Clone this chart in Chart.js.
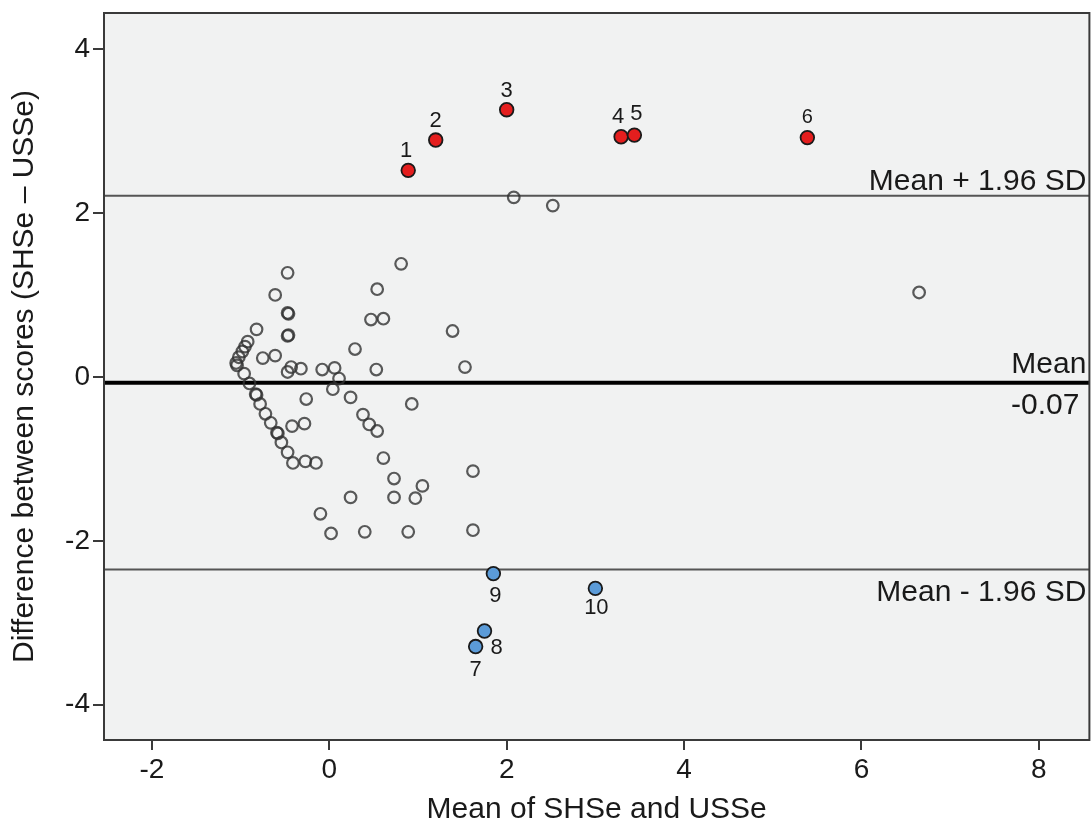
<!DOCTYPE html>
<html>
<head>
<meta charset="utf-8">
<script src="https://cdn.jsdelivr.net/npm/chart.js@4.4.1/dist/chart.umd.min.js"></script>
<style>
  html, body { margin: 0; padding: 0; background: #fff; overflow: hidden; }
  #wrap { width: 1091px; height: 828px; overflow: hidden; }
</style>
</head>
<body>
<div id="wrap"><canvas id="bland" width="1098" height="828"></canvas></div>
<script>
// gray open circles (mean, difference)
const grayX = [2.08, 2.52, 0.81, 0.54, 0.47, 0.61, 1.39, 6.65, 1.53,
  -0.47, -0.61, -0.47, -0.46, -0.47, -0.46, -0.82, -0.92, -0.95, -0.98, -1.02, -1.05, -1.04,
  -0.96, -0.75, -0.61, -0.47, -0.43, -0.32, -0.08, 0.06, 0.11, 0.04, 0.24, 0.29, 0.53,
  -0.26, 0.93, 0.38, 0.45, 0.54, -0.42, -0.28, 0.61, 1.62, 0.73, 1.05, 0.24, 0.73, 0.97,
  -0.10, 0.02, 0.40, 0.89, 1.62, -0.27, -0.15,
  -0.90, -0.83, -0.82, -0.78, -0.72, -0.66, -0.59, -0.58, -0.54, -0.47, -0.41];
const grayY = [2.19, 2.09, 1.38, 1.07, 0.70, 0.71, 0.56, 1.03, 0.12,
  1.27, 1.00, 0.78, 0.77, 0.50, 0.51, 0.58, 0.43, 0.37, 0.31, 0.24, 0.17, 0.14,
  0.04, 0.23, 0.26, 0.06, 0.12, 0.10, 0.09, 0.11, -0.02, -0.15, -0.25, 0.34, 0.09,
  -0.27, -0.33, -0.46, -0.58, -0.66, -0.60, -0.57, -0.99, -1.15, -1.24, -1.33, -1.47, -1.47, -1.48,
  -1.67, -1.91, -1.89, -1.89, -1.87, -1.03, -1.05,
  -0.08, -0.21, -0.22, -0.33, -0.45, -0.56, -0.68, -0.69, -0.80, -0.92, -1.05];

// outliers above the upper limit (red) and below the lower limit (blue)
const redX = [0.89, 1.20, 2.00, 3.29, 3.44, 5.39];
const redY = [2.52, 2.89, 3.26, 2.93, 2.95, 2.92];
const redLabels = ['1', '2', '3', '4', '5', '6'];
const blueX = [1.65, 1.75, 1.85, 3.00];
const blueY = [-3.29, -3.10, -2.40, -2.58];
const blueLabels = ['7', '8', '9', '10'];

const meanDiff = -0.07;
const upperLoA = 2.21;
const lowerLoA = -2.35;

const xTicks = [-2, 0, 2, 4, 6, 8];
const yTicks = [-4, -2, 0, 2, 4];
const xMin = -2.54, xMax = 8.57;
const yMin = -4.43, yMax = 4.44;

const FONT = "'Liberation Sans', Arial, sans-serif";

function pts(xs, ys) { return xs.map((x, i) => ({ x: x, y: ys[i] })); }
function hline(v) { return [{ x: xMin, y: v }, { x: xMax, y: v }]; }

// offsets for the number labels next to the coloured points
const labelOffsets = {
  '1': [-2, -19], '2': [0, -19], '3': [0, -19], '4': [-3, -20], '5': [2, -21], '6': [0, -20],
  '7': [0, 23], '8': [12, 17], '9': [2, 22], '10': [1, 20]
};

const framePlugin = {
  id: 'frame',
  beforeDraw(chart) {
    const a = chart.chartArea, c = chart.ctx;
    c.save();
    c.fillStyle = '#f1f2f2';
    c.fillRect(a.left, a.top, a.right - a.left, a.bottom - a.top);
    c.restore();
  },
  afterDatasetsDraw(chart) {
    const a = chart.chartArea, c = chart.ctx;
    const xs = chart.scales.x, ys = chart.scales.y;
    c.save();
    c.strokeStyle = '#3a3a3a';
    c.lineWidth = 2;
    c.strokeRect(a.left, a.top, a.right - a.left, a.bottom - a.top);

    c.fillStyle = '#1a1a1a';
    c.font = '30px ' + FONT;
    c.textAlign = 'right';
    c.textBaseline = 'alphabetic';
    c.fillText('Mean + 1.96 SD', a.right - 3, ys.getPixelForValue(upperLoA) - 6);
    c.fillText('Mean', a.right - 3, ys.getPixelForValue(meanDiff) - 10);
    c.fillText('-0.07', a.right - 10, ys.getPixelForValue(meanDiff) + 31);
    c.fillText('Mean - 1.96 SD', a.right - 3, ys.getPixelForValue(lowerLoA) + 31);

    c.textAlign = 'center';
    c.textBaseline = 'middle';
    const drawLabels = (xsArr, ysArr, labs) => {
      labs.forEach((l, i) => {
        const o = labelOffsets[l];
        c.font = (l === '6' ? '20px ' : '22px ') + FONT;
        c.fillText(l, xs.getPixelForValue(xsArr[i]) + o[0], ys.getPixelForValue(ysArr[i]) + o[1]);
      });
    };
    drawLabels(redX, redY, redLabels);
    drawLabels(blueX, blueY, blueLabels);
    c.restore();
  }
};

new Chart(document.getElementById('bland').getContext('2d'), {
  type: 'scatter',
  data: {
    datasets: [
      { type: 'line', data: hline(upperLoA), borderColor: '#555', borderWidth: 2, pointRadius: 0, order: 5 },
      { type: 'line', data: hline(lowerLoA), borderColor: '#555', borderWidth: 2, pointRadius: 0, order: 5 },
      { type: 'line', data: hline(meanDiff), borderColor: '#000', borderWidth: 4, pointRadius: 0, order: 5 },
      { data: pts(grayX, grayY), pointRadius: 5.8, pointBorderWidth: 2.2,
        pointBorderColor: 'rgba(50,50,50,0.8)', pointBackgroundColor: 'rgba(0,0,0,0)', order: 2 },
      { data: pts(redX, redY), pointRadius: 6.8, pointBorderWidth: 1.8,
        pointBorderColor: '#1a1a1a', pointBackgroundColor: '#e41e1e', order: 1 },
      { data: pts(blueX, blueY), pointRadius: 6.8, pointBorderWidth: 1.8,
        pointBorderColor: '#1a1a1a', pointBackgroundColor: '#5b9bd8', order: 1 }
    ]
  },
  options: {
    responsive: false,
    maintainAspectRatio: false,
    animation: false,
    layout: { padding: { top: 13, right: 0, left: 0, bottom: 0 } },
    plugins: { legend: { display: false }, tooltip: { enabled: false } },
    scales: {
      x: {
        type: 'linear', min: xMin, max: xMax,
        afterBuildTicks: s => { s.ticks = xTicks.map(v => ({ value: v })); },
        afterFit: s => { s.height = 88; s.paddingLeft = 0; s.paddingRight = 0; },
        grid: { drawOnChartArea: false, drawTicks: true, tickLength: 10, color: '#3a3a3a', lineWidth: 2 },
        border: { display: false },
        ticks: { font: { family: FONT, size: 28 }, color: '#1a1a1a', padding: 3 },
        title: { display: true, text: 'Mean of SHSe and USSe', font: { family: FONT, size: 30 }, color: '#1a1a1a', padding: { top: 3, bottom: 0 } }
      },
      y: {
        type: 'linear', min: yMin, max: yMax,
        afterBuildTicks: s => { s.ticks = yTicks.map(v => ({ value: v })); },
        afterFit: s => { s.width = 104; s.paddingTop = 0; s.paddingBottom = 0; },
        grid: { drawOnChartArea: false, drawTicks: true, tickLength: 11, color: '#3a3a3a', lineWidth: 2 },
        border: { display: false },
        ticks: { font: { family: FONT, size: 28 }, color: '#1a1a1a', padding: 3 },
        title: { display: true, text: 'Difference between scores (SHSe \u2013 USSe)', font: { family: FONT, size: 30 }, color: '#1a1a1a', padding: { top: 7, bottom: 0 } }
      }
    }
  },
  plugins: [framePlugin]
});
</script>
</body>
</html>
